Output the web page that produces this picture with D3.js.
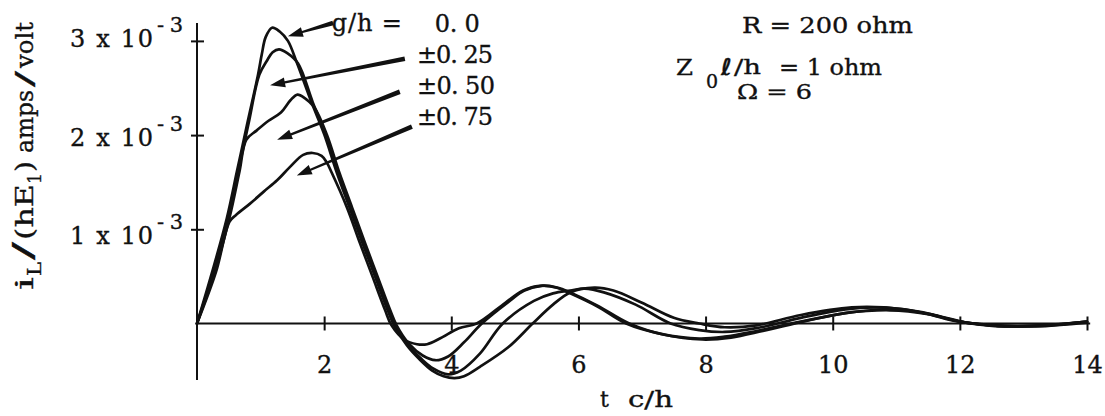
<!DOCTYPE html>
<html>
<head>
<meta charset="utf-8">
<script src="https://cdn.jsdelivr.net/npm/d3@7"></script>
<style>
  html, body { margin: 0; padding: 0; background: #fff; }
  svg { display: block; }
  text { font-family: "DejaVu Serif", serif; fill: #111; stroke: #111; stroke-width: 0.35px; }
</style>
</head>
<body>
<svg id="chart" width="1105" height="416"></svg>
<script>
// Normalised load current i_L/(hE_1) against normalised time t c/h,
// for four gap positions g/h. Current values are in units of 10^-3 amps/volt.
const xTicks = [2, 4, 6, 8, 10, 12, 14];
const yTicks = [1, 2, 3];
const gapLabels = ["0. 0", "\u00b10. 25", "\u00b10. 50", "\u00b10. 75"];

const responseG000 = [
  [0,0],[0.24,0.55],[0.47,1.12],[0.63,1.62],[0.79,2.12],[0.96,2.64],[1.02,2.86],[1.08,3.04],
  [1.18,3.14],[1.3,3.1],[1.43,3.0],[1.57,2.77],[1.8,2.35],[2.0,2.01],[2.2,1.6],[2.4,1.23],
  [2.6,0.86],[2.8,0.5],[3.0,0.14],[3.1,-0.02],[3.3,-0.23],[3.5,-0.38],[3.7,-0.5],[3.88,-0.56],
  [4.05,-0.58],[4.2,-0.56],[4.45,-0.46],[4.9,-0.25],[5.28,0],[5.6,0.2],[5.87,0.33],[6.25,0.38],
  [6.55,0.35],[7.0,0.22],[7.5,0.06],[7.9,0.0],[8.3,-0.04],[8.8,-0.02],[9.5,0.09],[10.3,0.17],
  [10.8,0.17],[11.4,0.12],[12.0,0.02],[12.6,-0.02],[13.3,-0.02],[14,0.02]
];
const responseG025 = [
  [0,0],[0.26,0.55],[0.49,1.12],[0.65,1.62],[0.81,2.12],[0.98,2.64],[1.1,2.79],[1.19,2.88],
  [1.29,2.91],[1.42,2.87],[1.59,2.76],[1.82,2.35],[2.02,2.01],[2.22,1.6],[2.42,1.23],[2.62,0.86],
  [2.82,0.5],[3.02,0.14],[3.12,-0.02],[3.32,-0.23],[3.52,-0.37],[3.72,-0.48],[3.95,-0.54],
  [4.15,-0.5],[4.45,-0.32],[4.81,0],[5.3,0.24],[5.6,0.32],[5.87,0.35],[6.1,0.37],[6.4,0.33],
  [6.9,0.2],[7.45,0],[7.9,-0.07],[8.3,-0.09],[8.8,-0.05],[9.5,0.06],[10.2,0.15],[10.7,0.17],
  [11.3,0.13],[11.9,0.03],[12.5,-0.02],[13.2,-0.03],[14,0.01]
];
const responseG050 = [
  [0,0],[0.28,0.55],[0.51,1.12],[0.67,1.62],[0.775,1.95],[0.94,2.05],[1.12,2.15],[1.32,2.24],
  [1.47,2.37],[1.58,2.43],[1.7,2.39],[1.84,2.3],[2.04,2.01],[2.24,1.6],[2.44,1.23],[2.64,0.86],
  [2.84,0.5],[3.04,0.14],[3.14,-0.02],[3.34,-0.22],[3.55,-0.34],[3.75,-0.39],[3.95,-0.35],
  [4.2,-0.2],[4.48,0],[4.9,0.23],[5.15,0.35],[5.42,0.4],[5.68,0.38],[5.87,0.33],[6.3,0.19],
  [6.8,0],[7.35,-0.12],[7.95,-0.17],[8.4,-0.15],[8.9,-0.08],[9.6,0.03],[10.3,0.12],[11.0,0.15],
  [11.6,0.09],[12.1,0.01],[12.7,-0.03],[13.4,-0.02],[14,0.02]
];
const responseG075 = [
  [0,0],[0.3,0.55],[0.51,1.08],[0.61,1.15],[0.83,1.27],[1.05,1.4],[1.26,1.52],[1.46,1.66],
  [1.67,1.79],[1.82,1.81],[1.96,1.78],[2.04,1.71],[2.12,1.6],[2.36,1.23],[2.56,0.86],[2.76,0.5],
  [2.96,0.14],[3.06,-0.02],[3.26,-0.17],[3.46,-0.22],[3.62,-0.22],[3.82,-0.16],[4.12,-0.05],
  [4.4,0],[4.85,0.22],[5.13,0.35],[5.39,0.4],[5.66,0.38],[5.87,0.32],[6.3,0.18],[6.75,0],
  [7.3,-0.11],[7.9,-0.16],[8.3,-0.14],[8.8,-0.08],[9.5,0.02],[10.2,0.11],[10.9,0.14],[11.5,0.1],
  [12.0,0.02],[12.6,-0.03],[13.3,-0.02],[14,0.02]
];
const responses = [responseG000, responseG025, responseG050, responseG075];

// Label arrows: [tail, tip] in data units (t c/h, 10^-3 amps/volt)
const labelArrows = [
  [[2.14, 3.19], [1.43, 3.05]],
  [[3.27, 2.81], [1.15, 2.53]],
  [[3.19, 2.46], [1.26, 1.95]],
  [[3.38, 2.09], [1.57, 1.57]]
];

const svg = d3.select("#chart");
const x = d3.scaleLinear().domain([0, 14]).range([197, 1087]);
const y = d3.scaleLinear().domain([-0.6, 3.19]).range([380, 23]);
const ink = "#111";

// axes
const xAxis = svg.append("g")
  .attr("transform", `translate(0,${y(0)})`)
  .call(d3.axisBottom(x).tickValues(xTicks).tickSize(0).tickFormat(d3.format("d")));
xAxis.select(".domain").remove();
xAxis.selectAll(".tick line").attr("y1", -7).attr("y2", 7)
  .attr("stroke", ink).attr("stroke-width", 2);
xAxis.selectAll(".tick text").attr("y", 50).attr("dy", 0)
  .style("font-family", "DejaVu Serif").style("font-size", "24px")
  .attr("fill", ink).attr("stroke", ink).attr("stroke-width", 0.35);

svg.append("line")
  .attr("x1", x(0)).attr("x2", x(14.05)).attr("y1", y(0)).attr("y2", y(0))
  .attr("stroke", ink).attr("stroke-width", 2);

const yAxis = svg.append("g")
  .attr("transform", `translate(${x(0)},0)`)
  .call(d3.axisLeft(y).tickValues(yTicks).tickSize(0).tickFormat(""));
yAxis.select(".domain").remove();
yAxis.selectAll(".tick line").attr("x1", -6).attr("x2", 7)
  .attr("stroke", ink).attr("stroke-width", 2);
yAxis.selectAll(".tick text").remove();

svg.append("line")
  .attr("x1", x(0)).attr("x2", x(0)).attr("y1", y(-0.6)).attr("y2", y(3.19))
  .attr("stroke", ink).attr("stroke-width", 2);

// y tick labels "n x 10^-3"
yTicks.forEach(v => {
  const base = y(v) + 6 + (3 - v) * 4.5;
  svg.append("text").attr("x", 70).attr("y", base)
    .attr("textLength", 83).attr("lengthAdjust", "spacing")
    .style("font-size", "24px").text(`${v} x 10`);
  svg.append("text").attr("x", 157).attr("y", base - 15)
    .attr("textLength", 26).attr("lengthAdjust", "spacing")
    .style("font-size", "21px").text("-3");
});

// curves
const line = d3.line()
  .x(d => x(d[0])).y(d => y(d[1]))
  .curve(d3.curveCatmullRom.alpha(0.5));
svg.append("g").selectAll("path").data(responses).join("path")
  .attr("d", line)
  .attr("fill", "none").attr("stroke", ink).attr("stroke-width", 2.7)
  .attr("stroke-linejoin", "round").attr("stroke-linecap", "round");

// tapered arrows with solid heads
function arrowPath(tail, tip) {
  const dx = tip[0] - tail[0], dy = tip[1] - tail[1], L = Math.hypot(dx, dy);
  const ux = dx / L, uy = dy / L, nx = -uy, ny = ux;
  const headLen = 15, headW = 5, w0 = 2.3, w1 = 1.1;
  const bx = tip[0] - ux * headLen, by = tip[1] - uy * headLen;
  const p = [
    [tail[0] + nx * w0, tail[1] + ny * w0],
    [bx + nx * w1, by + ny * w1],
    [bx + nx * headW, by + ny * headW],
    [tip[0], tip[1]],
    [bx - nx * headW, by - ny * headW],
    [bx - nx * w1, by - ny * w1],
    [tail[0] - nx * w0, tail[1] - ny * w0]
  ];
  return "M" + p.map(q => q[0].toFixed(1) + "," + q[1].toFixed(1)).join("L") + "Z";
}
svg.append("g").selectAll("path").data(labelArrows).join("path")
  .attr("d", d => arrowPath([x(d[0][0]), y(d[0][1])], [x(d[1][0]), y(d[1][1])]))
  .attr("fill", ink);

// gap labels
svg.append("text").attr("x", x(2.12)).attr("y", y(3.1))
  .attr("textLength", 70).attr("lengthAdjust", "spacing")
  .style("font-size", "24px").text("g/h =");
const labelPos = [[3.74, 3.096, 45], [3.46, 2.766, 76], [3.46, 2.436, 78], [3.46, 2.106, 76]];
gapLabels.forEach((s, i) => {
  svg.append("text").attr("x", x(labelPos[i][0])).attr("y", y(labelPos[i][1]))
    .attr("textLength", labelPos[i][2]).attr("lengthAdjust", "spacing")
    .style("font-size", "24px").text(s);
});

// circuit parameters
svg.append("text").attr("x", 742).attr("y", 33)
  .attr("textLength", 171).attr("lengthAdjust", "spacingAndGlyphs")
  .style("font-size", "22px").text("R = 200 ohm");
svg.append("text").attr("x", 676).attr("y", 75)
  .attr("textLength", 17).attr("lengthAdjust", "spacingAndGlyphs")
  .style("font-size", "22px").text("Z");
svg.append("text").attr("x", 706).attr("y", 88).style("font-size", "19px").text("0");
svg.append("text").attr("x", 721).attr("y", 75).style("font-size", "23px")
  .style("font-family", "DejaVu Sans").style("font-weight", "bold").style("font-style", "italic")
  .text("\u2113");
svg.append("text").attr("x", 734).attr("y", 74)
  .attr("textLength", 27).attr("lengthAdjust", "spacingAndGlyphs")
  .style("font-size", "21px").text("/h");
svg.append("text").attr("x", 779).attr("y", 75)
  .attr("textLength", 103).attr("lengthAdjust", "spacingAndGlyphs")
  .style("font-size", "22px").text("= 1 ohm");
svg.append("text").attr("x", 737).attr("y", 99)
  .attr("textLength", 75).attr("lengthAdjust", "spacingAndGlyphs")
  .style("font-size", "20px").text("\u03a9 = 6");

// axis titles
svg.append("text").attr("x", 600).attr("y", 407)
  .style("font-size", "22px").text("t");
svg.append("text").attr("x", 628).attr("y", 407)
  .attr("textLength", 45).attr("lengthAdjust", "spacingAndGlyphs")
  .style("font-size", "22px").text("c/h");

const yt = svg.append("g").attr("transform", "translate(33,290) rotate(-90)");
const titleParts = [
  ["i", 0, 13, 0, 25], ["L", 14, 14, 8, 18], ["/", 30, 18, 0, 27],
  ["(hE", 50, 56, 0, 25], ["1", 106, 11, 8, 18], [")", 118, 11, 0, 25],
  ["amps", 137, 63, 0, 25], ["/", 203, 16, 0, 25], ["volt", 222, 46, 0, 25]
];
titleParts.forEach(([s, x0, w, dy, fs]) => {
  yt.append("text").attr("x", x0).attr("y", dy)
    .attr("textLength", w).attr("lengthAdjust", "spacingAndGlyphs")
    .style("font-size", fs + "px").text(s);
});
</script>
</body>
</html>
